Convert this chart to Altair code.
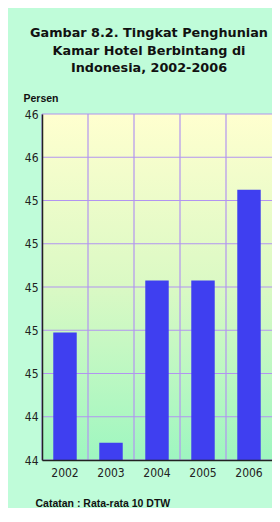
import altair as alt
import pandas as pd

# ---- data ----
years = ["2002", "2003", "2004", "2005", "2006"]
values = [44.79, 44.28, 45.03, 45.03, 45.45]
y_ticks = [44.2, 44.4, 44.6, 44.8, 45.0, 45.2, 45.4, 45.6, 45.8]
y_min, y_max = 44.2, 45.8
title_lines = ["Gambar 8.2. Tingkat Penghunian", "Kamar Hotel Berbintang di", "Indonesia, 2002-2006"]
y_label = "Persen"
note = "Catatan : Rata-rata 10 DTW"

df = pd.DataFrame({"year": years, "value": values})
ticks_df = pd.DataFrame({"tick": y_ticks})

W, H = 230, 346
yscale = alt.Scale(domain=[y_min, y_max], zero=False, nice=False)
xscale = alt.Scale(paddingInner=0, paddingOuter=0)
grid_color = "#b294f0"

x_axis = alt.Axis(
    title=note, titleAnchor="start", titleX=-7, titleY=46, titleBaseline="alphabetic",
    titleFont="Liberation Sans", titleFontSize=10.5, titleFontWeight="bold", titleColor="#111",
    labelAngle=0, labelFont="DejaVu Sans Condensed", labelFontSize=12, labelColor="#222",
    labelPadding=7, ticks=False, grid=False, domainColor="#222", domainWidth=1.5, zindex=1)
y_axis = alt.Axis(
    values=y_ticks, format=".0f", title=y_label, titleAngle=0, titleAnchor="start",
    titleX=-19, titleY=-13, titleAlign="left", titleBaseline="alphabetic",
    titleFont="Liberation Sans", titleFontSize=10.5, titleFontWeight="bold", titleColor="#111",
    labelFont="DejaVu Sans Condensed", labelFontSize=12, labelColor="#222", labelPadding=4,
    ticks=False, grid=False, domainColor="#222", domainWidth=1.5, zindex=1)

bg = alt.Chart(pd.DataFrame({"a": [0]})).mark_rect(
    fill=alt.LinearGradient(
        gradient="linear",
        stops=[alt.GradientStop(offset=0, color="#ffffcf"),
               alt.GradientStop(offset=0.5, color="#daf9c4"),
               alt.GradientStop(offset=1, color="#9ef6c0")],
        x1=0, x2=0, y1=0, y2=1),
).encode(x=alt.value(0), x2=alt.value(W), y=alt.value(0), y2=alt.value(H))

hgrid = alt.Chart(ticks_df).mark_rule(color=grid_color, strokeWidth=1.2).encode(
    y=alt.Y("tick:Q", scale=yscale, axis=y_axis)
)

vgrid = alt.Chart(df).mark_rule(color=grid_color, strokeWidth=1.2).encode(
    x=alt.X("year:N", scale=xscale, bandPosition=0, axis=x_axis)
)

bars = alt.Chart(df).mark_bar(color="#3f3ff0", width=alt.RelativeBandSize(0.51)).encode(
    x=alt.X("year:N", scale=xscale, axis=x_axis),
    y=alt.Y("value:Q", scale=yscale, axis=y_axis),
    y2=alt.datum(y_min),
)

chart = alt.layer(bg, hgrid, vgrid, bars).properties(
    width=W, height=H,
    title=alt.TitleParams(text=title_lines, font="DejaVu Sans", fontSize=12.8, fontWeight="bold",
                          lineHeight=17.5, anchor="middle", frame="group", dx=-8, offset=18,
                          color="#111"),
    autosize=alt.AutoSizeParams(type="none"),
    padding={"left": 34, "top": 106, "right": 0, "bottom": 48},
    background="#bffcd9",
).configure_view(stroke=None)

chart.save("out.html", embed_options={"renderer": "svg", "actions": False})
